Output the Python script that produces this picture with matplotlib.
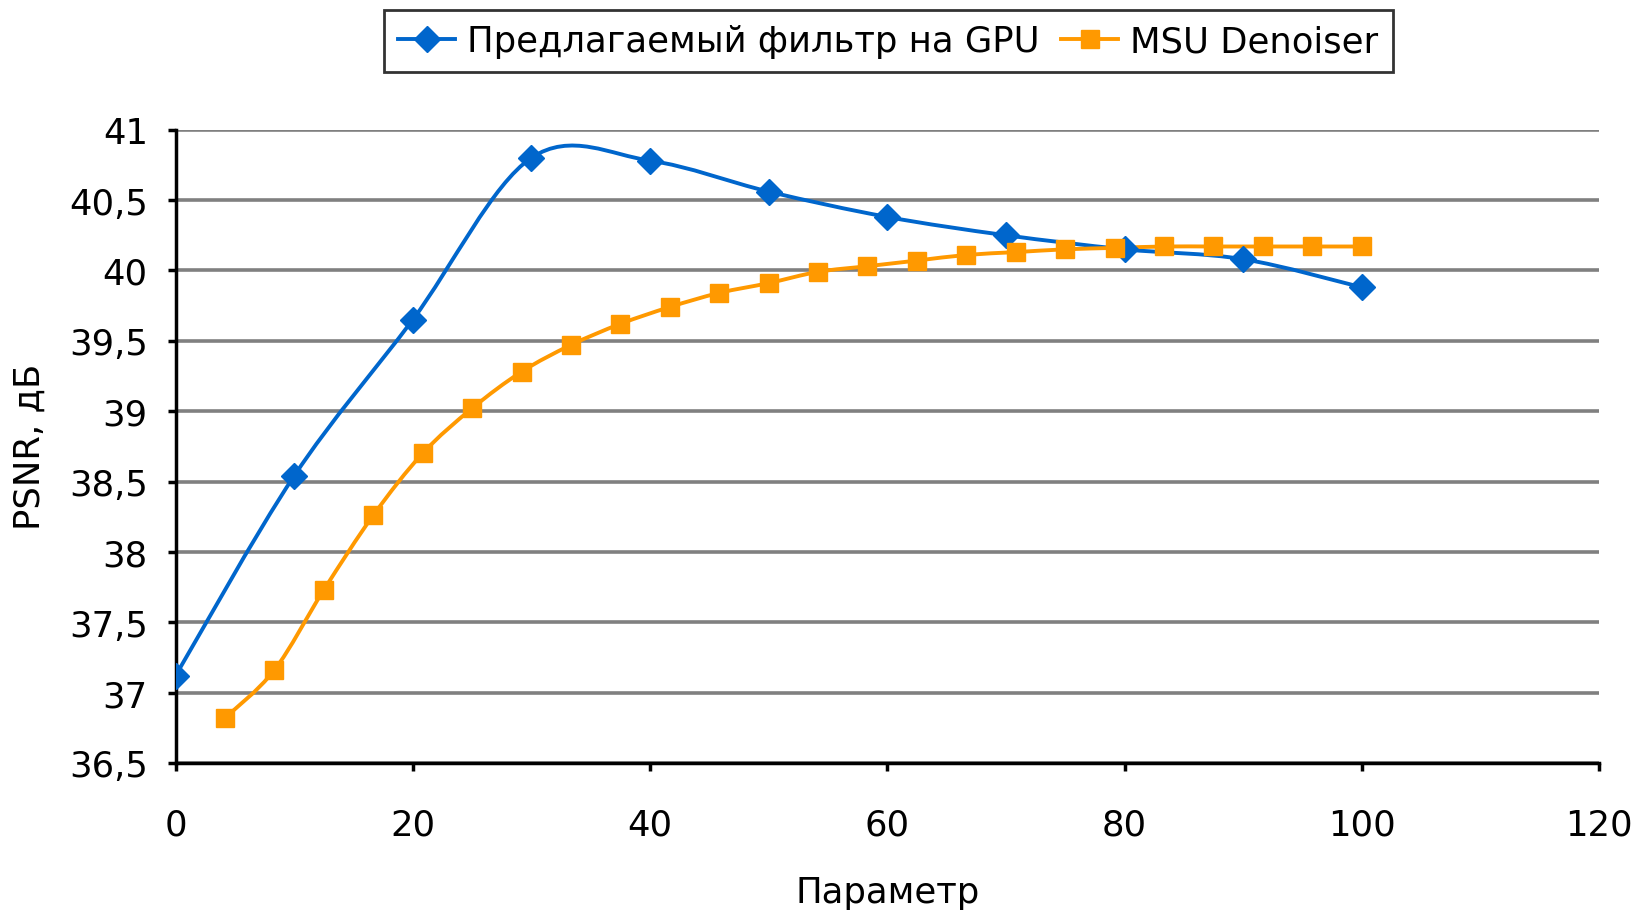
import numpy as np
from matplotlib import pyplot as plt
from matplotlib.path import Path
from matplotlib.patches import PathPatch

# data
gpu_x = [0, 10, 20, 30, 40, 50, 60, 70, 80, 90, 100]
gpu_y = [37.12, 38.54, 39.65, 40.80, 40.78, 40.56, 40.38, 40.25, 40.15, 40.08, 39.88]

msu_x = [4.17, 8.33, 12.5, 16.67, 20.83, 25.0, 29.17, 33.33, 37.5, 41.67, 45.83, 50.0,
         54.17, 58.33, 62.5, 66.67, 70.83, 75.0, 79.17, 83.33, 87.5, 91.67, 95.83, 100.0]
msu_y = [36.82, 37.16, 37.73, 38.26, 38.70, 39.02, 39.28, 39.47, 39.62, 39.74, 39.84, 39.91,
         39.99, 40.03, 40.07, 40.11, 40.13, 40.15, 40.16, 40.17, 40.17, 40.17, 40.17, 40.17]

blue = "#0066CC"
orange = "#FF9900"


def smooth_path(xs, ys):
    # excel-like smoothed line: bezier segments between the data points
    p = np.column_stack([xs, ys]).astype(float)
    verts = [p[0]]
    codes = [Path.MOVETO]
    n = len(p)
    for i in range(n - 1):
        p0 = p[i - 1] if i > 0 else p[i]
        p3 = p[i + 2] if i + 2 < n else p[i + 1]
        c1 = p[i] + (p[i + 1] - p0) / 6.0
        c2 = p[i + 1] - (p3 - p[i]) / 6.0
        verts += [c1, c2, p[i + 1]]
        codes += [Path.CURVE4] * 3
    return Path(verts, codes)


fig = plt.figure(figsize=(16.39, 9.12), dpi=100)
ax = fig.add_axes([0.1071, 0.1623, 0.8685, 0.6944])

for xs, ys, c in [(gpu_x, gpu_y, blue), (msu_x, msu_y, orange)]:
    ax.add_patch(PathPatch(smooth_path(xs, ys), fill=False, edgecolor=c, lw=2.8,
                           zorder=3, capstyle="round", joinstyle="round"))

ax.plot(gpu_x, gpu_y, ls="none", marker="D", ms=13, color=blue, zorder=4)
ax.plot(msu_x, msu_y, ls="none", marker="s", ms=13, color=orange, zorder=4)

# legend handles
h1, = ax.plot([], [], color=blue, lw=2.8, marker="D", ms=13)
h2, = ax.plot([], [], color=orange, lw=2.8, marker="s", ms=13)
leg = fig.legend([h1, h2], ["Предлагаемый фильтр на GPU", "MSU Denoiser"],
                 loc="upper center", bbox_to_anchor=(0.542, 0.988), ncol=2,
                 fontsize=25.5, frameon=True, fancybox=False, edgecolor="black",
                 handlelength=1.6, handletextpad=0.35, columnspacing=0.6,
                 borderpad=0.4, borderaxespad=0)
leg.get_frame().set_linewidth(2)

ax.set_xlim(0, 120)
ax.set_ylim(36.5, 41)
ax.set_xticks(range(0, 121, 20))
yt = np.arange(36.5, 41.01, 0.5)
ax.set_yticks(yt)
ax.set_yticklabels([("%g" % v).replace(".", ",") for v in yt])
ax.grid(axis="y", color="#808080", lw=2.6)
ax.set_axisbelow(True)
for s in ["top", "right"]:
    ax.spines[s].set_visible(False)
for s in ["left", "bottom"]:
    ax.spines[s].set_linewidth(2.5)
ax.tick_params(labelsize=25.5, width=2.5, length=6, direction="out", colors="black")
ax.tick_params(axis="y", pad=14)
ax.tick_params(axis="x", pad=26)
ax.set_xlabel("Параметр", fontsize=25.5, labelpad=24)
ax.set_ylabel("PSNR, дБ", fontsize=25.5, labelpad=16)

plt.savefig("out.png", dpi=100)
